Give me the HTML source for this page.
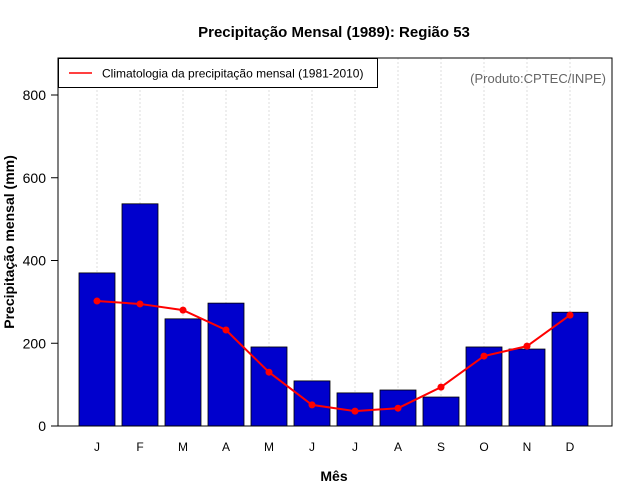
<!DOCTYPE html>
<html><head><meta charset="utf-8"><style>
body{margin:0;background:#fff}
svg{font-family:"Liberation Sans",sans-serif;display:block}
</style></head><body>
<svg id="chart" width="640" height="500" xmlns="http://www.w3.org/2000/svg">
<rect width="640" height="500" fill="#fff"/>
<text x="334" y="37" text-anchor="middle" font-size="15" font-weight="bold">Precipitação Mensal (1989): Região 53</text>
<text x="334" y="481" text-anchor="middle" font-size="14" font-weight="bold">Mês</text>
<text transform="translate(14,242) rotate(-90)" text-anchor="middle" font-size="14" font-weight="bold">Precipitação mensal (mm)</text>
<g id="grid"></g><g id="bars"></g><g id="line"></g><g id="axes"></g>
<rect x="58" y="58" width="554" height="368" fill="none" stroke="#000" stroke-width="1"/>
<g>
<rect x="58.5" y="58.5" width="319" height="29" fill="#fff" stroke="#000"/>
<line x1="69" y1="73" x2="92" y2="73" stroke="#f00" stroke-width="1.5"/>
<text x="102" y="77.5" font-size="12">Climatologia da precipitação mensal (1981-2010)</text>
</g>
<text x="606" y="83" text-anchor="end" font-size="13" fill="#666">(Produto:CPTEC/INPE)</text>
</svg>
<script>
const months=["J","F","M","A","M","J","J","A","S","O","N","D"];
const observed=[370,537,259,297,191,109,80,87,70,191,186,275];
const climatology=[302,295,280,232,130,51,36,43,94,169,193,268];
const yTicks=[0,200,400,600,800];
const NS="http://www.w3.org/2000/svg";
function y(v){return 426-v*0.41375;}
function x(i){return 97+i*43;}
function mk(tag,attrs,parent){const e=document.createElementNS(NS,tag);for(const k in attrs)e.setAttribute(k,attrs[k]);parent.appendChild(e);return e;}
const grid=document.getElementById('grid'),bars=document.getElementById('bars'),line=document.getElementById('line'),axes=document.getElementById('axes');
months.forEach((m,i)=>{
 const g=mk('line',{x1:x(i),x2:x(i),y1:58,y2:426,stroke:'#ddd','stroke-dasharray':'2,2'},grid);
 
 
 const b=mk('rect',{x:x(i)-18,y:y(observed[i]),width:36,height:426-y(observed[i]),fill:'#0000cd',stroke:'#000','stroke-width':0.8},bars);
 
 
 const t=mk('text',{x:x(i),y:451,'text-anchor':'middle','font-size':12},axes);
 t.textContent=m;
 
 
});
const pl=mk('polyline',{points:climatology.map((v,i)=>x(i)+','+y(v)).join(' '),fill:'none',stroke:'#f00','stroke-width':2},line);


climatology.forEach((v,i)=>{
 const c=mk('circle',{cx:x(i),cy:y(v),r:3.5,fill:'#f00'},line);
 
 
});
yTicks.forEach(v=>{
 const l=mk('line',{x1:51,x2:58,y1:y(v),y2:y(v),stroke:'#000'},axes);
 
 
 const t=mk('text',{x:46,y:y(v)+5,'text-anchor':'end','font-size':14},axes);
 t.textContent=v;
 
 
});
</script>
</body></html>
